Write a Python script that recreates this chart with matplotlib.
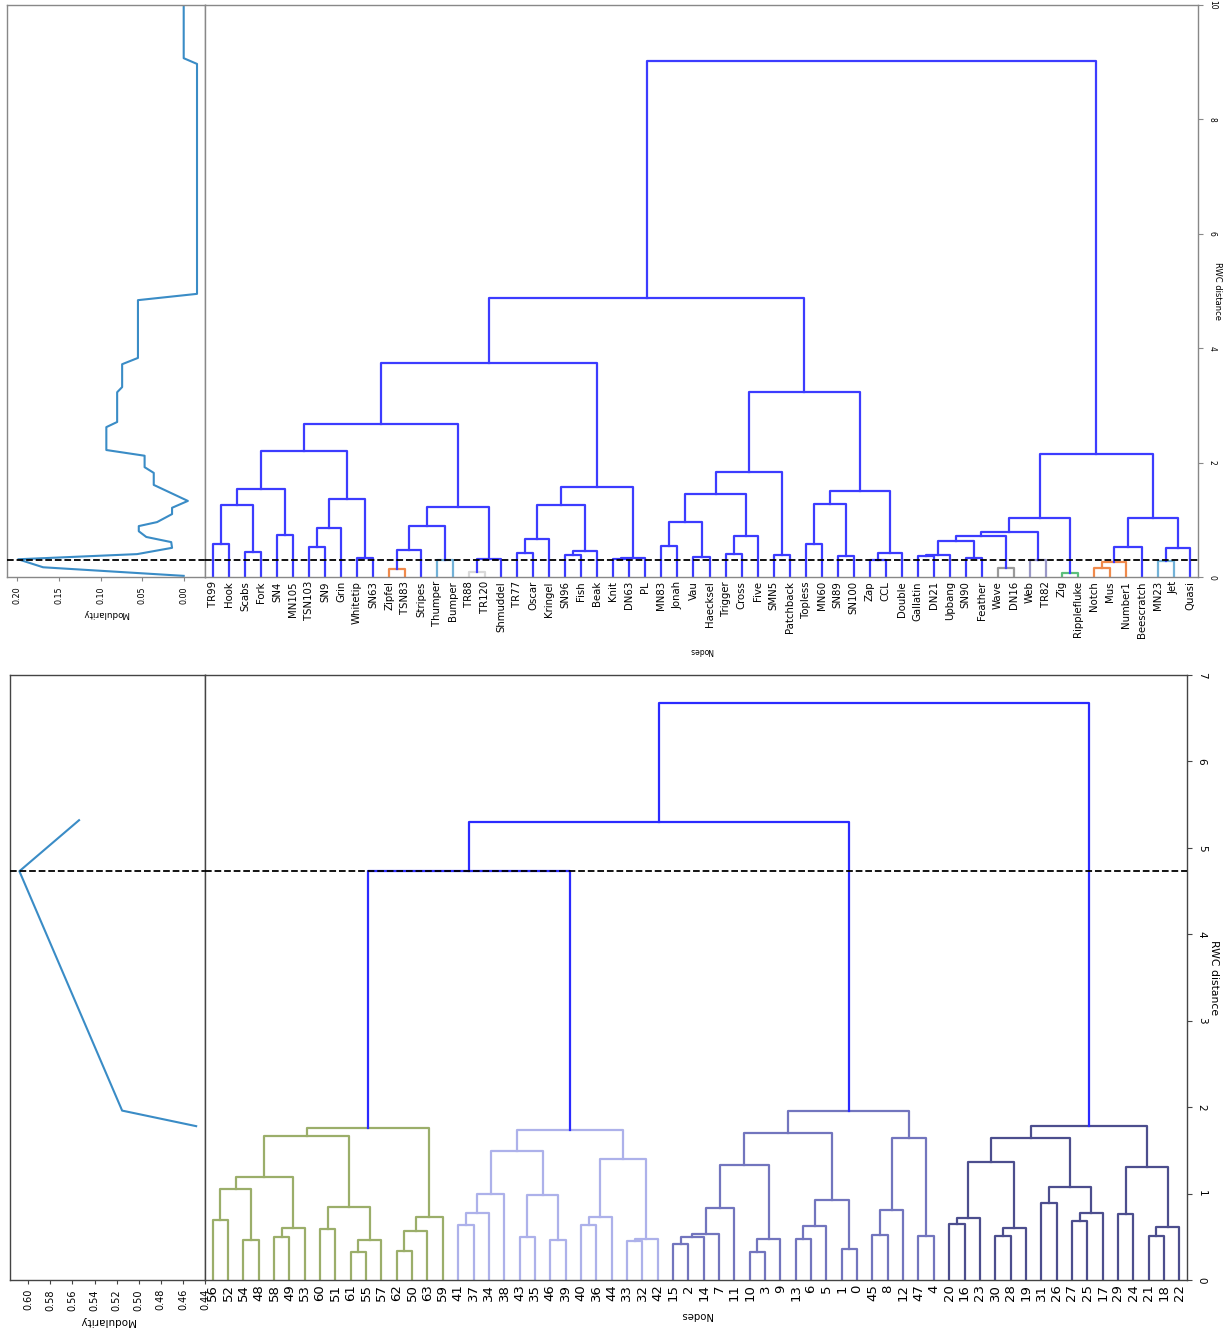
import matplotlib
matplotlib.use("Agg")
import matplotlib.pyplot as plt

# ---------------- data: top panel (named nodes) ----------------
top_leaves = ["TR99", "Hook", "Scabs", "Fork", "SN4", "MN105", "TSN103", "SN9", "Grin",
              "Whitetip", "SN63", "Zipfel", "TSN83", "Stripes", "Thumper", "Bumper", "TR88",
              "TR120", "Shmuddel", "TR77", "Oscar", "Kringel", "SN96", "Fish", "Beak", "Knit",
              "DN63", "PL", "MN83", "Jonah", "Vau", "Haecksel", "Trigger", "Cross", "Five",
              "SMN5", "Patchback", "Topless", "MN60", "SN89", "SN100", "Zap", "CCL", "Double",
              "Gallatin", "DN21", "Upbang", "SN90", "Feather", "Wave", "DN16", "Web", "TR82",
              "Zig", "Ripplefluke", "Notch", "Mus", "Number1", "Beescratch", "MN23", "Jet", "Quasi"]

# (child a, child b, merge distance, colour key); str = leaf, int = earlier merge
top_merges = [
    ("TR99", "Hook", 0.57, "B"), ("Scabs", "Fork", 0.44, "B"), (0, 1, 1.26, "B"),
    ("SN4", "MN105", 0.74, "B"), (2, 3, 1.53, "B"), ("TSN103", "SN9", 0.52, "B"),
    (5, "Grin", 0.85, "B"), ("Whitetip", "SN63", 0.34, "B"), (6, 7, 1.37, "B"),
    (4, 8, 2.21, "B"), ("Zipfel", "TSN83", 0.14, "O"), (10, "Stripes", 0.48, "B"),
    ("Thumper", "Bumper", 0.29, "LB"), (11, 12, 0.90, "B"), ("TR88", "TR120", 0.09, "LG"),
    (14, "Shmuddel", 0.31, "B"), (13, 15, 1.23, "B"), (9, 16, 2.67, "B"),
    ("TR77", "Oscar", 0.42, "B"), (18, "Kringel", 0.67, "B"), ("SN96", "Fish", 0.39, "B"),
    (20, "Beak", 0.45, "B"), (19, 21, 1.26, "B"), ("Knit", "DN63", 0.31, "B"),
    (23, "PL", 0.34, "B"), (22, 24, 1.57, "B"), (17, 25, 3.74, "B"),
    ("MN83", "Jonah", 0.54, "B"), ("Vau", "Haecksel", 0.35, "B"), (27, 28, 0.96, "B"),
    ("Trigger", "Cross", 0.41, "B"), (30, "Five", 0.71, "B"), (29, 31, 1.45, "B"),
    ("SMN5", "Patchback", 0.39, "B"), (32, 33, 1.83, "B"), ("Topless", "MN60", 0.58, "B"),
    ("SN89", "SN100", 0.36, "B"), (35, 36, 1.27, "B"), ("Zap", "CCL", 0.30, "B"),
    (38, "Double", 0.42, "B"), (37, 39, 1.51, "B"), (34, 40, 3.23, "B"),
    (26, 41, 4.88, "B"), ("Gallatin", "DN21", 0.36, "B"), (43, "Upbang", 0.39, "B"),
    ("SN90", "Feather", 0.33, "B"), (44, 45, 0.63, "B"), ("Wave", "DN16", 0.16, "G"),
    (46, 47, 0.72, "B"), ("Web", "TR82", 0.29, "L"), (48, 49, 0.78, "B"),
    ("Zig", "Ripplefluke", 0.07, "GR"), (50, 51, 1.04, "B"), ("Notch", "Mus", 0.16, "O"),
    (53, "Number1", 0.26, "O"), (54, "Beescratch", 0.52, "B"), ("MN23", "Jet", 0.28, "LB"),
    (56, "Quasi", 0.51, "B"), (55, 57, 1.04, "B"), (52, 58, 2.15, "B"), (42, 59, 9.02, "B"),
]
top_colors = {"B": "#3c3cff", "O": "#f08a4b", "LB": "#72b2d8", "LG": "#d9d9d9",
              "G": "#9a9a9a", "L": "#9a98c8", "GR": "#5cc07c"}

top_mod_dist = [10.0, 9.07, 8.97, 4.95, 4.84, 3.83, 3.72, 3.32, 3.23, 2.71, 2.62, 2.22, 2.12,
                1.92, 1.82, 1.61, 1.33, 1.21, 1.10, 0.96, 0.89, 0.80, 0.70, 0.61, 0.51, 0.40,
                0.31, 0.17, 0.02]
top_mod_val = [0.0, 0.0, -0.016, -0.016, 0.055, 0.055, 0.074, 0.074, 0.080, 0.080, 0.093,
               0.093, 0.047, 0.047, 0.036, 0.036, -0.005, 0.014, 0.014, 0.032, 0.054, 0.054,
               0.045, 0.015, 0.014, 0.056, 0.199, 0.169, 0.0]
top_cut = 0.30
top_yticks = [0, 2, 4, 6, 8, 10]
top_mod_ticks = [0.20, 0.15, 0.10, 0.05, 0.00]

# ---------------- data: bottom panel (numbered nodes) ----------------
bot_leaves = ["56", "52", "54", "48", "58", "49", "53", "60", "51", "61", "55", "57", "62",
              "50", "63", "59", "41", "37", "34", "38", "43", "35", "46", "39", "40", "36",
              "44", "33", "32", "42", "15", "2", "14", "7", "11", "10", "3", "9", "13", "6",
              "5", "1", "0", "45", "8", "12", "47", "4", "20", "16", "23", "30", "28", "19",
              "31", "26", "27", "25", "17", "29", "24", "21", "18", "22"]

bot_merges = [
    ("56", "52", 0.70, "GN"), ("54", "48", 0.46, "GN"), (0, 1, 1.05, "GN"),
    ("58", "49", 0.50, "GN"), (3, "53", 0.60, "GN"), (2, 4, 1.19, "GN"),
    ("60", "51", 0.59, "GN"), ("61", "55", 0.32, "GN"), (7, "57", 0.46, "GN"),
    (6, 8, 0.85, "GN"), (5, 9, 1.67, "GN"), ("62", "50", 0.34, "GN"),
    (11, "63", 0.57, "GN"), (12, "59", 0.73, "GN"), (10, 13, 1.76, "GN"),
    ("41", "37", 0.64, "LV"), (15, "34", 0.78, "LV"), (16, "38", 1.00, "LV"),
    ("43", "35", 0.50, "LV"), ("46", "39", 0.46, "LV"), (18, 19, 0.98, "LV"),
    (17, 20, 1.49, "LV"), ("40", "36", 0.64, "LV"), (22, "44", 0.73, "LV"),
    ("33", "32", 0.45, "LV"), (24, "42", 0.47, "LV"), (23, 25, 1.40, "LV"),
    (21, 26, 1.74, "LV"),
    ("15", "2", 0.42, "SL"), (28, "14", 0.50, "SL"), (29, "7", 0.53, "SL"),
    (30, "11", 0.83, "SL"), ("10", "3", 0.32, "SL"), (32, "9", 0.47, "SL"),
    (31, 33, 1.33, "SL"), ("13", "6", 0.47, "SL"), (35, "5", 0.63, "SL"),
    ("1", "0", 0.36, "SL"), (36, 37, 0.92, "SL"), (34, 38, 1.70, "SL"),
    ("45", "8", 0.52, "SL"), (40, "12", 0.81, "SL"), ("47", "4", 0.51, "SL"),
    (41, 42, 1.64, "SL"), (39, 43, 1.95, "SL"),
    ("20", "16", 0.65, "NV"), (45, "23", 0.72, "NV"), ("30", "28", 0.51, "NV"),
    (47, "19", 0.60, "NV"), (46, 48, 1.36, "NV"), ("31", "26", 0.89, "NV"),
    ("27", "25", 0.68, "NV"), (51, "17", 0.77, "NV"), (50, 52, 1.08, "NV"),
    (49, 53, 1.64, "NV"), ("29", "24", 0.76, "NV"), ("21", "18", 0.51, "NV"),
    (56, "22", 0.61, "NV"), (55, 57, 1.31, "NV"), (54, 58, 1.78, "NV"),
    (14, 27, 4.73, "B"), (60, 44, 5.30, "B"), (61, 59, 6.68, "B"),
]
bot_colors = {"B": "#2b2bff", "GN": "#9bae6a", "LV": "#adb1ea", "SL": "#7275be", "NV": "#4c4e8e"}

bot_mod_dist = [5.32, 4.73, 1.96, 1.78]
bot_mod_val = [0.554, 0.608, 0.515, 0.448]
bot_cut = 4.73
bot_yticks = [0, 1, 2, 3, 4, 5, 6, 7]
bot_mod_ticks = [0.60, 0.58, 0.56, 0.54, 0.52, 0.50, 0.48, 0.46, 0.44]


def draw_dendro(ax, leaves, merges, colors, lw):
    pos = {name: 10 * i + 5 for i, name in enumerate(leaves)}
    node_x, node_h = [], []

    def get(c):
        if isinstance(c, str):
            return pos[c], 0.0
        return node_x[c], node_h[c]

    for a, b, h, col in merges:
        xa, ha = get(a)
        xb, hb = get(b)
        ax.plot([xa, xa, xb, xb], [ha, h, h, hb], color=colors[col], lw=lw, zorder=2)
        node_x.append((xa + xb) / 2.0)
        node_h.append(h)
    ax.set_xlim(0, 10 * len(leaves))
    ax.set_xticks([10 * i + 5 for i in range(len(leaves))])


W, H = 1228, 1329
fig = plt.figure(figsize=(W / 100, H / 100), dpi=100)


def fx(px):
    return px / W


def fy(py):
    return 1 - py / H


def panel(mod_l, den_r, top_px, bot_px, leaves, merges, colors, mod_d, mod_v, cut, yticks,
          ylim, mod_xlim, mod_ticks, spine_col, leaf_fs, tick_fs, mod_fs, lab_fs, lw,
          ylab_pad):
    h = (bot_px - top_px) / H
    axm = fig.add_axes([fx(mod_l), fy(bot_px), fx(205 - mod_l), h])
    axd = fig.add_axes([fx(205), fy(bot_px), fx(den_r - 205), h])

    draw_dendro(axd, leaves, merges, colors, lw)
    axd.set_ylim(*ylim)
    axd.set_xticklabels(leaves, rotation=90, fontsize=leaf_fs)
    axd.tick_params(axis="x", length=0, pad=3)
    axd.yaxis.tick_right()
    axd.yaxis.set_label_position("right")
    axd.set_yticks(yticks)
    axd.set_yticklabels([str(t) for t in yticks], rotation=270, fontsize=tick_fs,
                        va="center")
    axd.tick_params(axis="y", length=3.5, color=spine_col)
    axd.set_ylabel("RWC distance", rotation=270, fontsize=lab_fs, labelpad=ylab_pad)
    axd.set_xlabel("Nodes", rotation=180, fontsize=lab_fs - 0.5, labelpad=6)
    axd.axhline(cut, color="black", ls="--", lw=1.3, zorder=3)

    axm.plot(mod_v, mod_d, color="#3a8cc6", lw=1.5)
    axm.set_ylim(*ylim)
    axm.set_xlim(*mod_xlim)
    axm.set_yticks([])
    axm.set_xticks(mod_ticks)
    axm.set_xticklabels(["%.2f" % t for t in mod_ticks], rotation=90, fontsize=mod_fs)
    axm.tick_params(axis="x", length=3, color=spine_col)
    axm.set_xlabel("Modularity", rotation=180, fontsize=mod_fs + 0.5, labelpad=4)
    axm.axhline(cut, color="black", ls="--", lw=1.3, zorder=3)

    for a in (axm, axd):
        for s in a.spines.values():
            s.set_color(spine_col)
            s.set_linewidth(1.0)
    return axm, axd


panel(7, 1198, 5, 577, top_leaves, top_merges, top_colors, top_mod_dist, top_mod_val,
      top_cut, top_yticks, (0, 10), (0.2124, -0.0256), top_mod_ticks, "#888888",
      7.3, 5.5, 5.8, 6.0, 1.6, 4)

panel(10, 1187, 675, 1280, bot_leaves, bot_merges, bot_colors, bot_mod_dist, bot_mod_val,
      bot_cut, bot_yticks, (0, 7), (0.6165, 0.44), bot_mod_ticks, "#444444",
      9.5, 7.5, 7.0, 7.8, 1.6, 9)

fig.savefig("out.png", dpi=100)
